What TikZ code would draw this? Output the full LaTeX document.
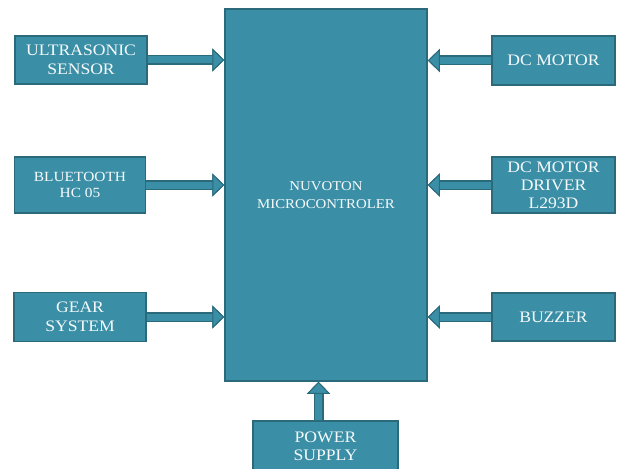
\documentclass[tikz,border=0pt]{standalone}
\usepackage{fontspec}
\setmainfont[FakeStretch=1.1]{Liberation Serif}
\usetikzlibrary{arrows.meta}

\definecolor{boxfill}{HTML}{3A8FA6}
\definecolor{boxedge}{HTML}{2A6A7B}

\tikzset{
  block/.style={draw=boxedge, fill=boxfill, line width=1.5pt, text=white!96!boxfill,
    align=center, inner sep=0pt, font=\fontsize{16}{19}\selectfont},
  fathead/.style={-{Triangle[length=12pt,width=23pt,line width=1pt,color=boxedge,fill=boxfill]}},
  feed/.style={fathead, draw=boxfill, line width=7pt,
    preaction={draw=boxedge, line width=10pt, fathead}}
}

\begin{document}
\begin{tikzpicture}[x=1pt,y=-1pt]
  \useasboundingbox (0,0) rectangle (617,468);

  % microcontroller
  \node[block, minimum width=202pt, minimum height=372pt, font=\fontsize{13.5}{18}\selectfont]
    (mcu) at (326,195) {NUVOTON\\MICROCONTROLER};

  % left blocks
  \node[block, minimum width=132pt, minimum height=48pt] (sonar) at (81,60) {ULTRASONIC\\SENSOR};
  \node[block, minimum width=131pt, minimum height=56pt, font=\fontsize{14}{16}\selectfont]
    (bt) at (80,185) {BLUETOOTH\\HC 05};
  \node[block, minimum width=132pt, minimum height=49pt] (gear) at (80,317) {GEAR\\SYSTEM};

  % right blocks
  \node[block, minimum width=123pt, minimum height=49pt] (motor) at (553.5,60.5) {DC MOTOR};
  \node[block, minimum width=123pt, minimum height=56pt, font=\fontsize{16}{18}\selectfont]
    (driver) at (553.5,185) {DC MOTOR\\DRIVER\\L293D};
  \node[block, minimum width=123pt, minimum height=48pt] (buzz) at (553.5,317) {BUZZER};

  % supply
  \node[block, minimum width=145pt, minimum height=50pt, font=\fontsize{16}{18}\selectfont]
    (psu) at (325.5,446) {POWER\\SUPPLY};

  % arrows into the controller
  \draw[feed] (sonar) -- (sonar -| mcu.west);
  \draw[feed] (bt) -- (bt -| mcu.west);
  \draw[feed] (gear) -- (gear -| mcu.west);
  \draw[feed] (motor) -- (motor -| mcu.east);
  \draw[feed] (driver) -- (driver -| mcu.east);
  \draw[feed] (buzz) -- (buzz -| mcu.east);
  \draw[feed] ([xshift=-7pt]psu.north) -- ([xshift=-7pt]psu.north |- mcu.south);

\end{tikzpicture}
\end{document}
